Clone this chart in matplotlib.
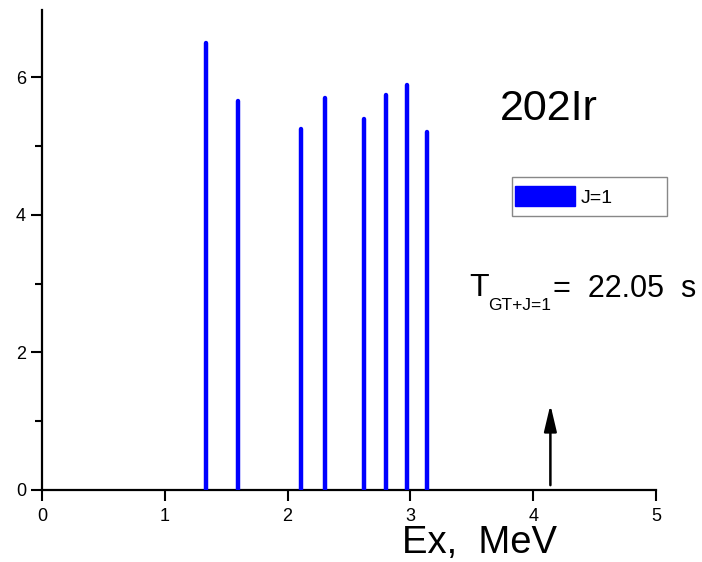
import matplotlib.pyplot as plt
from matplotlib.patches import Patch, Rectangle

plt.rcParams['font.family'] = ['Liberation Sans', 'DejaVu Sans']

# excitation energies (MeV) and strengths for J=1 levels
energies = [1.333, 1.594, 2.109, 2.307, 2.622, 2.799, 2.972, 3.138]
strengths = [6.50, 5.66, 5.25, 5.70, 5.39, 5.74, 5.89, 5.21]
arrow_x = 4.14
arrow_top = 1.28
xticks = [0, 1, 2, 3, 4, 5]
yticks = [0, 2, 4, 6]

W, H = 702, 562
fig = plt.figure(figsize=(W / 100, H / 100), dpi=100)
ax = fig.add_axes([42 / W, 1 - 490 / H, (656 - 42) / W, (490 - 10) / H])

ax.vlines(energies, 0, strengths, colors='#0000ff', linewidth=3.2,
          capstyle='round', zorder=3)

ax.annotate('', xy=(arrow_x, arrow_top), xytext=(arrow_x, 0.03),
            arrowprops=dict(arrowstyle='-|>,head_length=1.6,head_width=0.38',
                            color='black', lw=1.8))

ax.set_xlim(0, 5)
ax.set_ylim(0, 6.98)
ax.set_xticks(xticks)
ax.set_yticks(yticks)
ax.set_yticks([1, 3, 5], minor=True)
ax.tick_params(axis='both', which='major', direction='out', length=8,
               width=1.5, labelsize=13)
ax.tick_params(axis='y', which='minor', direction='out', length=5, width=1.5)
ax.tick_params(axis='x', pad=5)
for s in ['top', 'right']:
    ax.spines[s].set_visible(False)
for s in ['left', 'bottom']:
    ax.spines[s].set_linewidth(1.6)

# texts
fig.text(500 / W, 1 - 120 / H, '202Ir', fontsize=31, va='baseline')
fig.text(402 / W, 1 - 553 / H, 'Ex,  MeV', fontsize=27.5, va='baseline')
fig.text(469 / W, 1 - 296 / H, 'T', fontsize=23, va='baseline')
fig.text(488 / W, 1 - 310 / H, 'GT+J=1', fontsize=12.5, va='baseline')
fig.text(553 / W, 1 - 297 / H, '=  22.05  s', fontsize=22, va='baseline')

# legend: frame drawn as a figure rectangle, legend itself frameless
fig.patches.append(Rectangle((512 / W, 1 - 216 / H), 155 / W, 39 / H,
                             transform=fig.transFigure, facecolor='white',
                             edgecolor='#888888', linewidth=1.0, zorder=5))
leg = fig.legend(handles=[Patch(facecolor='#0000ff', edgecolor='#0000ff', label='J=1')],
                 loc='center left', bbox_to_anchor=(515 / W, 1 - 196.5 / H),
                 fontsize=14, handlelength=3.1, handleheight=1.2,
                 borderpad=0.0, handletextpad=0.3, frameon=False,
                 borderaxespad=0)
leg.set_zorder(6)

fig.savefig('out.png', dpi=100)
